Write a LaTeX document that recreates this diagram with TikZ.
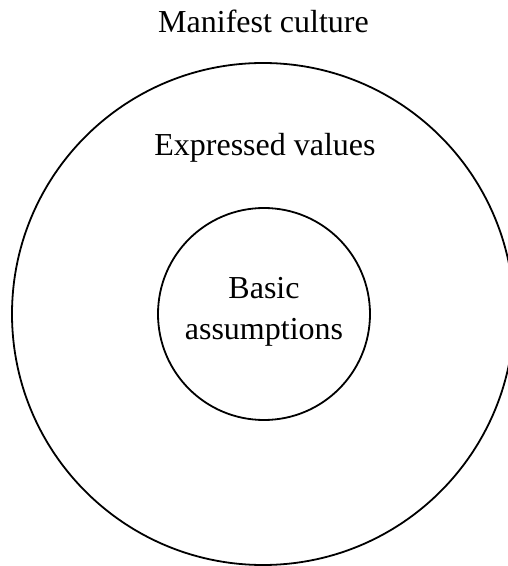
\documentclass[tikz,border=0pt]{standalone}
\usepackage{fontspec}
\setmainfont{Liberation Serif}
\begin{document}
\begin{tikzpicture}[x=1pt,y=1pt,
  ring/.style={circle, draw=black, line width=1.8pt, inner sep=0pt},
  label/.style={font=\fontsize{32}{41}\selectfont, inner sep=0pt, anchor=base}]
  \useasboundingbox (0,0) rectangle (508,566);
  \clip (0,0) rectangle (508,566);
  % concentric layers of culture
  \node[ring, minimum size=502pt] (outer) at (263,252) {};
  \node[ring, minimum size=212pt] (inner) at (264,252) {};
  % layer titles
  \node[label] (manifest) at (263.5,533) {Manifest culture};
  \node[label] (expressed) at (265,410) {Expressed values};
  \node[label] (basic1) at (264,267) {Basic};
  \node[label] (basic2) at (264,226) {assumptions};
\end{tikzpicture}
\end{document}
